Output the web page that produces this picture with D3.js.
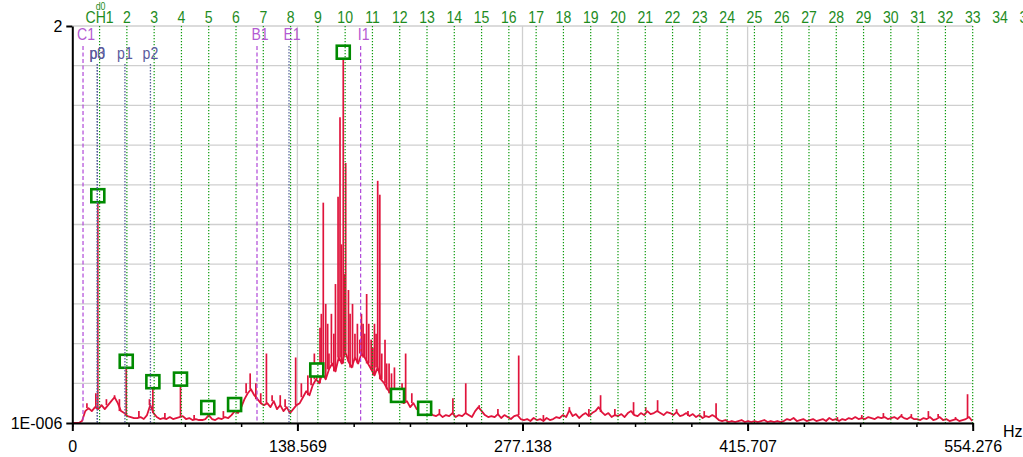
<!DOCTYPE html>
<html><head><meta charset="utf-8">
<script src="https://cdn.jsdelivr.net/npm/d3@7"></script>
<style>
html,body{margin:0;padding:0;background:#fff;}
svg{display:block;}
.narrow{font-family:"Liberation Sans",Arial,sans-serif;}
.axis text{font-family:"Liberation Sans",Arial,sans-serif;font-size:16px;fill:#000;}
</style></head>
<body>
<svg id="chart" width="1023" height="457"></svg>
<script>
// ---------- data ----------
const xMax = 554.276;
const harmonicCount = 33;
const f0 = xMax / harmonicCount;
const xTickValues = [0, 138.569, 277.138, 415.707, 554.276];
const xTickLabels = ["0", "138.569", "277.138", "415.707", "554.276"];
const yTickValues = [1e-6, 2];
const yTickLabels = ["1E-006", "2"];
const xUnit = "Hz";
const harmonicLabels = ["CH1","2","3","4","5","6","7","8","9","10","11","12","13","14","15","16","17","18","19","20","21","22","23","24","25","26","27","28","29","30","31","32","33","34","35"];
const topSmallLabel = "d0";

const cursorNames = ["C1", "B1", "E1", "I1"];
const cursorFreqs = [6.6, 113.7, 133.4, 177.5];
const peakCursorNames = ["p0", "p3", "p1", "p2"];
const peakCursorFreqs = [15.4, 15.4, 32.4, 48.1];

const markerFreqs = [15.7, 33.2, 49.6, 66.6, 83.4, 99.9, 150.5, 166.8, 200.2, 216.9];
const markerAmps  = [1.145, 0.311, 0.208, 0.221, 0.078, 0.093, 0.267, 1.868, 0.139, 0.074];

// noise floor, one value every 2 Hz from 0 to 554 Hz
const freqStep = 2;
const noiseFloor = [
0, 0, 0, 0.01, 0.06, 0.075, 0.06, 0.08, 0.07, 0.09,
0.07, 0.09, 0.11, 0.13, 0.1, 0.06, 0.05, 0.035, 0.03, 0.025,
0.025, 0.03, 0.02, 0.04, 0.09, 0.05, 0.03, 0.02, 0.025, 0.02,
0.03, 0.02, 0.025, 0.03, 0.035, 0.02, 0.025, 0.015, 0.02, 0.015,
0.015, 0.02, 0.04, 0.02, 0.015, 0.025, 0.02, 0.03, 0.025, 0.04,
0.06, 0.05, 0.08, 0.12, 0.15, 0.17, 0.14, 0.12, 0.1, 0.09,
0.1, 0.08, 0.11, 0.07, 0.09, 0.06, 0.08, 0.05, 0.07, 0.09,
0.1, 0.13, 0.16, 0.14, 0.19, 0.22, 0.2, 0.25, 0.22, 0.27,
0.3, 0.26, 0.33, 0.3, 0.36, 0.31, 0.28, 0.33, 0.3, 0.35,
0.33, 0.3, 0.27, 0.24, 0.28, 0.22, 0.2, 0.17, 0.15, 0.16,
0.14, 0.12, 0.1, 0.11, 0.08, 0.1, 0.07, 0.065, 0.08, 0.06,
0.05, 0.04, 0.035, 0.045, 0.03, 0.04, 0.035, 0.05, 0.03, 0.04,
0.035, 0.05, 0.04, 0.03, 0.06, 0.08, 0.06, 0.04, 0.03, 0.035,
0.03, 0.045, 0.025, 0.04, 0.03, 0.02, 0.035, 0.04, 0.02, 0.015,
0.02, 0.01, 0.025, 0.015, 0.02, 0.01, 0.025, 0.015, 0.02, 0.03,
0.025, 0.04, 0.03, 0.065, 0.035, 0.045, 0.025, 0.04, 0.05, 0.035,
0.05, 0.06, 0.08, 0.055, 0.04, 0.05, 0.03, 0.04, 0.035, 0.045,
0.03, 0.05, 0.06, 0.04, 0.035, 0.05, 0.04, 0.06, 0.045, 0.05,
0.06, 0.05, 0.04, 0.055, 0.05, 0.04, 0.055, 0.035, 0.04, 0.05,
0.035, 0.045, 0.03, 0.04, 0.025, 0.035, 0.03, 0.04, 0.03, 0.015,
0.01, 0.015, 0.005, 0.01, 0.005, 0.01, 0.015, 0.005, 0.01, 0.005,
0.01, 0.005, 0.01, 0.015, 0.005, 0.01, 0.005, 0.01, 0.005, 0.01,
0.02, 0.015, 0.025, 0.01, 0.015, 0.02, 0.01, 0.015, 0.02, 0.01,
0.015, 0.02, 0.01, 0.025, 0.015, 0.02, 0.01, 0.02, 0.015, 0.025,
0.02, 0.03, 0.02, 0.025, 0.02, 0.03, 0.025, 0.02, 0.03, 0.025,
0.03, 0.02, 0.025, 0.03, 0.02, 0.035, 0.025, 0.02, 0.03, 0.02,
0.02, 0.015, 0.025, 0.02, 0.03, 0.015, 0.02, 0.03, 0.015, 0.02,
0.01, 0.015, 0.02, 0.01, 0.015, 0.02, 0.03, 0.01
];

// narrow spectral lines [frequency Hz, amplitude]
const spikes = [
[9, 0.1], [14.5, 0.15], [15.7, 1.145], [21, 0.12], [26, 0.14], [29, 0.12], [33.2, 0.311],
[41, 0.06], [47.5, 0.12], [49.6, 0.208], [57, 0.05], [66.6, 0.221], [75, 0.04],
[83.4, 0.078], [93, 0.06], [99.9, 0.093], [104, 0.13], [107, 0.2], [109.5, 0.25], [113, 0.2],
[116, 0.15], [119.5, 0.35], [123, 0.14], [128, 0.14], [131, 0.12], [137.5, 0.33], [141, 0.2],
[145, 0.24], [147, 0.3], [149, 0.35], [150.5, 0.267], [152.5, 0.48], [153.3, 0.55], [154.5, 1.11],
[156, 0.6], [157.2, 0.5], [158, 0.35], [159.5, 0.55], [161, 0.45], [162, 0.7], [163.6, 1.14],
[164.8, 1.54], [165.7, 0.9], [166.8, 1.868], [167.6, 0.75], [168.3, 1.31], [170, 0.67],
[171, 0.55], [172.5, 0.6], [174, 0.45], [175.5, 0.5], [177, 0.42], [178, 0.55], [179, 0.5],
[180, 0.45], [181.2, 0.65], [182.5, 0.5], [184, 0.42], [185, 0.38], [186, 0.5], [187, 0.45],
[188, 1.22], [189.3, 1.15], [190.5, 0.35], [192.5, 0.42], [193.5, 0.3], [195, 0.3],
[196.5, 0.25], [198.3, 0.28], [200.2, 0.139], [203, 0.2], [205.2, 0.35], [209, 0.15],
[216.9, 0.074], [226, 0.07], [234.3, 0.125], [242.2, 0.2], [250.5, 0.09], [262, 0.07],
[274.8, 0.34], [290, 0.04], [306, 0.08], [318, 0.07], [325.2, 0.14], [334, 0.07],
[345.5, 0.105], [353, 0.08], [360.3, 0.115], [372, 0.07], [379, 0.06], [389, 0.06],
[396.3, 0.1], [471, 0.03], [486, 0.04], [499.3, 0.05], [510.5, 0.045], [516.5, 0.045],
[527, 0.06], [533, 0.045], [543.7, 0.03], [551.1, 0.145]
];

// ---------- drawing ----------
(function () {
const svg = d3.select("#chart");
const pLeft = 72.3, pRight = 972.7, pTop = 26, pBottom = 423;
const x = d3.scaleLinear().domain([0, xMax]).range([pLeft, pRight]);
const y = d3.scaleLinear().domain([yTickValues[0], yTickValues[1]]).range([pBottom, pTop]);

const green = "#0c9a0c", greenText = "#1e8c1e";
const purple = "#b048d8", purpleText = "#b45ad2";
const slate = "#55609a", slateText = "#5a5a9c";
const red = "#e0143c";
const sx = 0.88; // horizontal squeeze for the narrow label font

// grid
const gy = d3.range(0, 11).map(i => yTickValues[0] + i * (yTickValues[1] - yTickValues[0]) / 10);
svg.append("g").selectAll("line").data(gy).join("line")
  .attr("x1", pLeft).attr("x2", pRight).attr("y1", d => y(d)).attr("y2", d => y(d))
  .attr("stroke", "#cfcfcf").attr("stroke-width", 1.3);
svg.append("g").selectAll("line").data(xTickValues.slice(1, -1)).join("line")
  .attr("x1", d => x(d)).attr("x2", d => x(d)).attr("y1", pTop).attr("y2", pBottom)
  .attr("stroke", "#cfcfcf").attr("stroke-width", 1.3);

// spectrum
const specData = noiseFloor.map((v, i) => [i * freqStep, v]);
svg.append("path").datum(specData)
  .attr("d", d3.line().x(d => x(d[0])).y(d => y(d[1])))
  .attr("fill", "none").attr("stroke", red).attr("stroke-width", 1.8).attr("stroke-linejoin", "round");
const baseAt = f => noiseFloor[Math.min(noiseFloor.length - 1, Math.round(f / freqStep))];
svg.append("g").selectAll("line").data(spikes).join("line")
  .attr("x1", d => x(d[0])).attr("x2", d => x(d[0]))
  .attr("y1", d => y(baseAt(d[0]))).attr("y2", d => y(d[1]))
  .attr("stroke", red).attr("stroke-width", 1.7);

// peak markers
svg.append("g").selectAll("rect").data(markerFreqs).join("rect")
  .attr("x", d => x(d) - 6.5).attr("y", (d, i) => y(markerAmps[i]) - 6.5)
  .attr("width", 13).attr("height", 13)
  .attr("fill", "#fff").attr("stroke", "#008a00").attr("stroke-width", 2.6);

// harmonic lines
const harmonics = d3.range(1, harmonicLabels.length + 1);
svg.append("g").selectAll("line").data(harmonics.filter(k => k <= harmonicCount)).join("line")
  .attr("x1", k => x(k * f0)).attr("x2", k => x(k * f0)).attr("y1", pTop).attr("y2", pBottom)
  .attr("stroke", green).attr("stroke-width", 1.2).attr("stroke-dasharray", "1.2,1.8");
svg.append("g").attr("class", "narrow").selectAll("text").data(harmonics).join("text")
  .attr("transform", k => `translate(${x(k * f0)},23) scale(${sx},1)`).attr("text-anchor", "middle")
  .attr("font-size", 16).attr("fill", greenText).text((k, i) => harmonicLabels[i]);
svg.append("text").attr("class", "narrow")
  .attr("transform", `translate(${x(f0) + 1},10) scale(${sx},1)`)
  .attr("text-anchor", "middle").attr("font-size", 10).attr("fill", greenText).text(topSmallLabel);

// cursor lines
svg.append("g").selectAll("line").data(cursorFreqs).join("line")
  .attr("x1", d => x(d)).attr("x2", d => x(d)).attr("y1", 46).attr("y2", pBottom)
  .attr("stroke", (d, i) => cursorNames[i] === "E1" ? slate : purple).attr("stroke-width", 1.2)
  .attr("stroke-dasharray", (d, i) => cursorNames[i] === "E1" ? "1.5,1.5" : "4,2.5");
svg.append("g").attr("class", "narrow").selectAll("text").data(cursorFreqs).join("text")
  .attr("transform", d => `translate(${x(d) + 3},40) scale(${sx},1)`).attr("text-anchor", "middle")
  .attr("font-size", 16).attr("fill", purpleText).text((d, i) => cursorNames[i]);

svg.append("g").selectAll("line").data(peakCursorFreqs).join("line")
  .attr("x1", d => x(d)).attr("x2", d => x(d)).attr("y1", 64).attr("y2", pBottom)
  .attr("stroke", slate).attr("stroke-width", 1.3).attr("stroke-dasharray", "1.5,1.5");
svg.append("g").attr("class", "narrow").selectAll("text").data(peakCursorFreqs).join("text")
  .attr("transform", d => `translate(${x(d)},59) scale(${sx},1)`).attr("text-anchor", "middle")
  .attr("font-size", 16).attr("fill", slateText).text((d, i) => peakCursorNames[i]);

// axes
const xAxisMinor = d3.axisBottom(x).tickValues(d3.range(0, 17).map(i => i * xMax / 16))
  .tickSize(4).tickSizeOuter(0).tickFormat("");
svg.append("g").attr("transform", `translate(0,${pBottom})`).call(xAxisMinor)
  .call(g => g.select(".domain").remove())
  .call(g => g.selectAll("line").attr("stroke", "#000").attr("stroke-width", 1.5));
const xAxis = d3.axisBottom(x).tickValues(xTickValues).tickSize(8).tickSizeOuter(0)
  .tickPadding(10).tickFormat((d, i) => xTickLabels[i]);
svg.append("g").attr("class", "axis").attr("transform", `translate(0,${pBottom})`).call(xAxis)
  .call(g => g.select(".domain").attr("stroke", "#000").attr("stroke-width", 2))
  .call(g => g.selectAll(".tick line").attr("stroke", "#000").attr("stroke-width", 2));
const yAxis = d3.axisLeft(y).tickValues(yTickValues).tickSize(6).tickSizeOuter(0)
  .tickPadding(4).tickFormat((d, i) => yTickLabels[i]);
svg.append("g").attr("class", "axis").attr("transform", `translate(${pLeft},0)`).call(yAxis)
  .call(g => g.select(".domain").attr("stroke", "#000").attr("stroke-width", 2))
  .call(g => g.selectAll(".tick line").attr("stroke", "#000").attr("stroke-width", 2));
svg.append("text").attr("x", 1003).attr("y", 437).attr("font-size", 16)
  .attr("font-family", "Liberation Sans, Arial, sans-serif").text(xUnit);
})();
</script>
</body></html>
